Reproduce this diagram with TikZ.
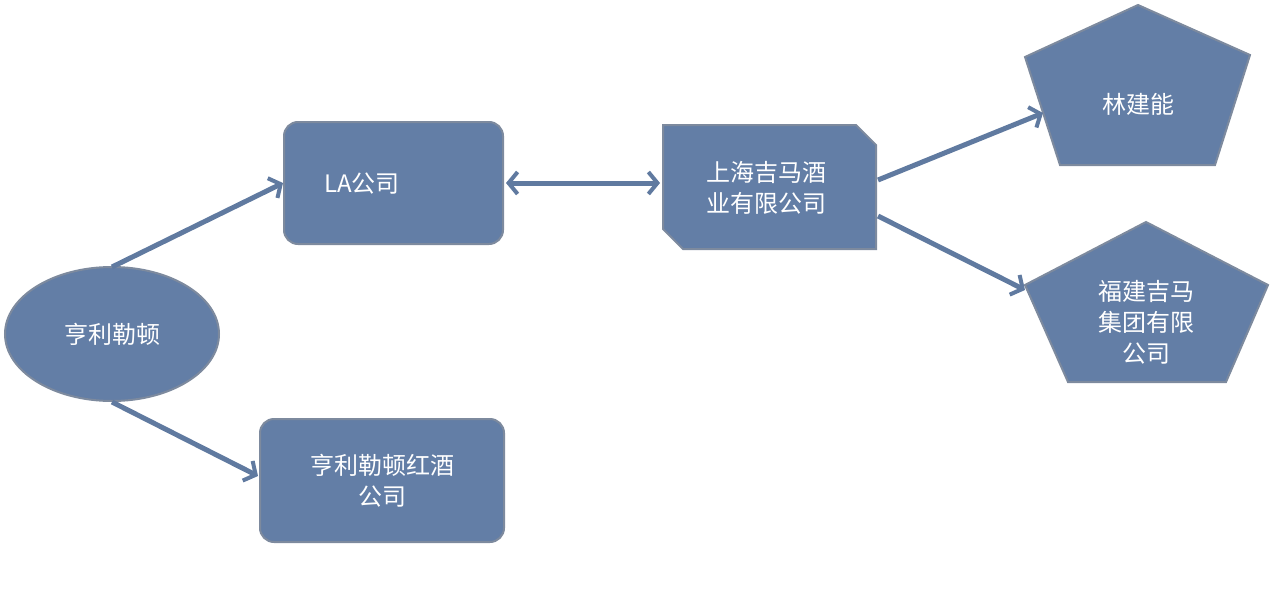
\documentclass[tikz,border=0pt]{standalone}
\usepackage{fontspec}
\newfontfamily\cjk{Noto Sans CJK SC}
\usetikzlibrary{arrows.meta}
\definecolor{boxfill}{RGB}{99,126,166}
\definecolor{boxline}{RGB}{125,138,158}
\definecolor{arr}{RGB}{96,122,160}
\tikzset{
  shp/.style={fill=boxfill,draw=boxline,line width=2pt},
  lbl/.style={text=white,font=\cjk\fontsize{24}{31}\selectfont,align=center},
  conn/.style={draw=arr,line width=5pt,-{Straight Barb[length=9pt,width=22pt,line width=4pt]}},
  conn2/.style={draw=arr,line width=5pt,{Straight Barb[length=9pt,width=22pt,line width=4pt]}-{Straight Barb[length=9pt,width=22pt,line width=4pt]}}
}
\begin{document}
\begin{tikzpicture}[x=1pt,y=-1pt]
\useasboundingbox (0,0) rectangle (1280,597);
% shapes
\draw[shp] (112,334) ellipse [x radius=107,y radius=67];
\draw[shp,rounded corners=14pt] (284,122) rectangle (503,244);
\draw[shp,rounded corners=14pt] (260,419) rectangle (504,542);
\draw[shp] (663,125) -- (856,125) -- (876,145) -- (876,249) -- (683,249) -- (663,229) -- cycle;
\draw[shp] (1138,5) -- (1250,55) -- (1215,165) -- (1060,165) -- (1025,57) -- cycle;
\draw[shp] (1146,222) -- (1268,285) -- (1226,382) -- (1068,382) -- (1025,285) -- cycle;
% labels
\node[lbl] (hl) at (112,334) {亨利勒顿};
\node[lbl] (la) at (362,184) {LA公司};
\node[lbl] (hw) at (382,481) {亨利勒顿红酒\\公司};
\node[lbl] (sh) at (766,188) {上海吉马酒\\业有限公司};
\node[lbl] (lj) at (1138,104) {林建能};
\node[lbl] (fj) at (1146,322) {福建吉马\\集团有限\\公司};
% anchor points
\coordinate (hlT) at (112,267);
\coordinate (hlB) at (112,402);
\coordinate (laL) at (283,183);
\coordinate (laR) at (506,183);
\coordinate (hwL) at (258,476);
\coordinate (shL) at (660,183);
\coordinate (shR1) at (878,180);
\coordinate (shR2) at (878,216);
\coordinate (ljL) at (1043,113);
\coordinate (fjL) at (1025,290);
% connectors
\draw[conn] (hlT) -- (laL);
\draw[conn] (hlB) -- (hwL);
\draw[conn2] (laR) -- (shL);
\draw[conn] (shR1) -- (ljL);
\draw[conn] (shR2) -- (fjL);
\end{tikzpicture}
\end{document}
